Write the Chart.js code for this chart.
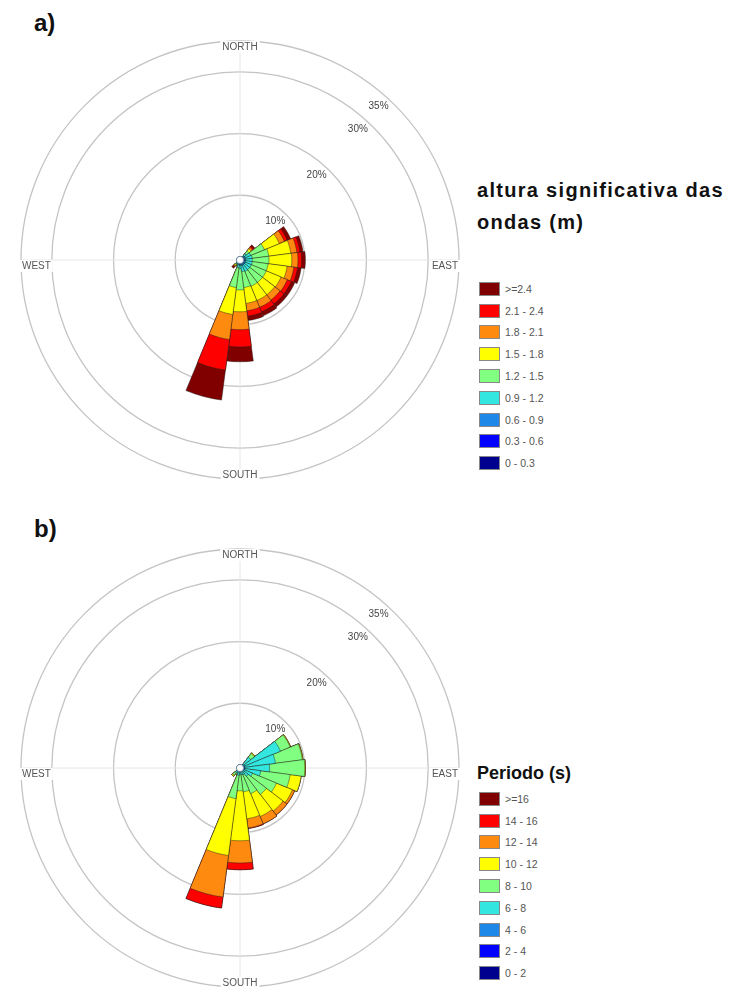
<!DOCTYPE html>
<html>
<head>
<meta charset="utf-8">
<script src="https://cdn.jsdelivr.net/npm/chart.js@4.4.0/dist/chart.umd.min.js"></script>
<style>
  body { margin: 0; background: #fff; font-family: "Liberation Sans", Arial, sans-serif; }
  #page { position: relative; width: 730px; height: 991px; overflow: hidden; }
  canvas { position: absolute; }
  .panel { position: absolute; font-weight: bold; font-size: 24px; color: #111; }
  .legend-title { position: absolute; left: 477px; font-weight: bold; line-height: 32px; color: #111; white-space: nowrap; }
  .legend { position: absolute; left: 479px; }
  .legend-row { display: flex; align-items: center; height: 21.8px; }
  .swatch { width: 19px; height: 12px; border: 1px solid #888; margin-right: 5px; }
  .legend-row span { font-size: 10.5px; color: #555; }
</style>
</head>
<body>
<div id="page">
  <div class="panel" style="left:34px; top:9px;">a)</div>
  <div class="panel" style="left:34px; top:515px;">b)</div>
  <canvas id="roseA" width="460" height="460" style="left:10px; top:30px;"></canvas>
  <canvas id="roseB" width="460" height="460" style="left:10px; top:538px;"></canvas>
  <div class="legend-title" style="top:174px; font-size:20px; letter-spacing:1.3px;">altura significativa das<br>ondas (m)</div>
  <div class="legend" id="legendA" style="top:278px;"></div>
  <div class="legend-title" style="top:757px; font-size:18px;">Periodo (s)</div>
  <div class="legend" id="legendB" style="top:788px;"></div>
</div>
<script>
// sector centres (degrees from north), 15 degree sectors
const directions = [0, 15, 30, 45, 60, 75, 90, 105, 120, 135, 150, 165,
  180, 195, 210, 225, 240, 255, 270, 285, 300, 315, 330, 345];

const ringTicks = [10, 20, 30, 35];

// a) significant wave height, % of occurrences per sector and class
const heightLabels = ["0 - 0.3", "0.3 - 0.6", "0.6 - 0.9", "0.9 - 1.2", "1.2 - 1.5",
  "1.5 - 1.8", "1.8 - 2.1", "2.1 - 2.4", ">=2.4"];
const hs_0_03  = [0, 0, 0, 0,    0,    0,    0,    0,    0,    0,    0,    0,    0,    0,    0,   0,   0, 0, 0, 0, 0, 0, 0, 0];
const hs_03_06 = [0, 0, 0, 0.05, 0.05, 0.05, 0.05, 0.05, 0.05, 0.05, 0.05, 0.05, 0.05, 0.05, 0,   0,   0, 0, 0, 0, 0, 0, 0, 0];
const hs_06_09 = [0, 0, 0, 0.25, 0.35, 0.35, 0.35, 0.35, 0.35, 0.35, 0.35, 0.35, 0.25, 0.2,  0.1, 0.1, 0, 0, 0, 0, 0, 0, 0, 0];
const hs_09_12 = [0, 0, 0, 0.5,  1.0,  1.1,  1.1,  1.1,  1.1,  1.1,  1.1,  1.0,  0.6,  0.5,  0.2, 0.2, 0, 0, 0, 0, 0, 0, 0, 0];
const hs_12_15 = [0, 0, 0, 0.6,  2.4,  2.7,  2.7,  2.6,  2.6,  2.6,  2.6,  2.6,  3.45, 3.25, 0.1, 0.2, 0, 0, 0, 0, 0, 0, 0, 0];
const hs_15_18 = [0, 0, 0, 0.4,  2.6,  3.6,  3.7,  3.1,  2.6,  2.5,  2.5,  2.6,  3.55, 4.4,  0.1, 0.2, 0, 0, 0, 0, 0, 0, 0, 0];
const hs_18_21 = [0, 0, 0, 0.3,  0.9,  1.0,  1.0,  1.1,  1.1,  1.1,  1.2,  1.2,  2.9,  4.1,  0,   0.1, 0, 0, 0, 0, 0, 0, 0, 0];
const hs_21_24 = [0, 0, 0, 0.2,  0.5,  0.5,  0.6,  0.6,  0.7,  0.8,  0.8,  0.9,  2.8,  5.0,  0,   0.1, 0, 0, 0, 0, 0, 0, 0, 0];
const hs_24    = [0, 0, 0, 0.3,  0.6,  0.5,  0.6,  0.6,  0.6,  0.6,  0.7,  0.7,  2.4,  4.9,  0.1, 0.3, 0, 0, 0, 0, 0, 0, 0, 0];

// b) peak period, % of occurrences per sector and class
const periodLabels = ["0 - 2", "2 - 4", "4 - 6", "6 - 8", "8 - 10", "10 - 12", "12 - 14", "14 - 16", ">=16"];
const tp_0_2   = [0, 0, 0, 0,    0,   0,   0,   0,   0,   0,   0,   0,   0,   0,   0,   0,   0, 0, 0, 0, 0, 0, 0, 0];
const tp_2_4   = [0, 0, 0, 0,    0,   0,   0,   0,   0,   0,   0,   0,   0,   0,   0,   0,   0, 0, 0, 0, 0, 0, 0, 0];
const tp_4_6   = [0, 0, 0, 0.2,  0.3, 0.3, 0.3, 0.3, 0.2, 0.2, 0.1, 0.1, 0.1, 0.1, 0.1, 0.1, 0, 0, 0, 0, 0, 0, 0, 0];
const tp_6_8   = [0, 0, 0, 1.5,  6.3, 5.0, 4.0, 2.6, 1.5, 1.0, 0.6, 0.5, 0.5, 0.6, 0.3, 0.4, 0, 0, 0, 0, 0, 0, 0, 0];
const tp_8_10  = [0, 0, 0, 0.75, 1.7, 4.4, 5.7, 4.8, 4.2, 3.7, 3.3, 2.8, 2.6, 3.8, 0.2, 0.5, 0, 0, 0, 0, 0, 0, 0, 0];
const tp_10_12 = [0, 0, 0, 0.15, 0.1, 0.1, 0.1, 1.8, 2.8, 3.4, 4.0, 4.4, 8.1, 9.3, 0,   0.2, 0, 0, 0, 0, 0, 0, 0, 0];
const tp_12_14 = [0, 0, 0, 0,    0,   0,   0,   0,   0.4, 0.8, 1.3, 1.5, 3.6, 6.8, 0,   0,   0, 0, 0, 0, 0, 0, 0, 0];
const tp_14_16 = [0, 0, 0, 0,    0,   0,   0,   0,   0,   0,   0,   0.1, 1.1, 1.8, 0,   0,   0, 0, 0, 0, 0, 0, 0, 0];
const tp_16    = [0, 0, 0, 0,    0,   0,   0,   0,   0,   0,   0,   0,   0,   0,   0,   0,   0, 0, 0, 0, 0, 0, 0, 0];

// jet-like class colours, lowest class first
const classColors = ["#00008f", "#0000ff", "#1e88e8", "#33e6e0", "#80ff80",
  "#ffff00", "#ff8a10", "#ff0000", "#800000"];

// compass words, percentage labels and the empty centre
const roseDecor = {
  id: "roseDecor",
  beforeDatasetsDraw(chart) {
    const s = chart.scales.r;
    const R = s.getDistanceFromCenterForValue(35);
    const c = chart.ctx;
    c.save();
    c.strokeStyle = "#e6e6e6";
    c.lineWidth = 1;
    c.beginPath();
    c.moveTo(s.xCenter - R, s.yCenter); c.lineTo(s.xCenter + R, s.yCenter);
    c.moveTo(s.xCenter, s.yCenter - R); c.lineTo(s.xCenter, s.yCenter + R);
    c.stroke();
    c.restore();
  },
  afterDatasetsDraw(chart) {
    const s = chart.scales.r;
    const c = chart.ctx;
    c.save();
    c.fillStyle = "#fff";
    c.strokeStyle = "#6a8fb0";
    c.lineWidth = 0.8;
    c.beginPath();
    c.arc(s.xCenter, s.yCenter, s.getDistanceFromCenterForValue(0) + 0.5, 0, Math.PI * 2);
    c.fill();
    c.stroke();
    c.restore();
  },
  afterDraw(chart) {
    const s = chart.scales.r;
    const R = s.getDistanceFromCenterForValue(35);
    const c = chart.ctx;
    const x0 = s.xCenter, y0 = s.yCenter;
    c.save();
    c.font = "10px 'Liberation Sans', Arial, sans-serif";
    c.textBaseline = "middle";
    const label = (text, x, y, align) => {
      const w = c.measureText(text).width;
      const left = align === "left" ? x : align === "right" ? x - w : x - w / 2;
      c.fillStyle = "#fff";
      c.fillRect(left - 2, y - 6, w + 4, 12);
      c.fillStyle = "#555";
      c.textAlign = "left";
      c.fillText(text, left, y);
    };
    label("NORTH", x0, y0 - R + 6, "center");
    label("SOUTH", x0, y0 + R - 4, "center");
    label("WEST", x0 - R + 1, y0 + 6, "left");
    label("EAST", x0 + R - 1, y0 + 6, "right");
    const ang = 42 * Math.PI / 180;
    c.fillStyle = "#444";
    c.textAlign = "center";
    ringTicks.forEach(v => {
      const d = s.getDistanceFromCenterForValue(v) - 12;
      c.fillText(v + "%", x0 + Math.sin(ang) * d, y0 - Math.cos(ang) * d);
    });
    c.restore();
  }
};

function buildRose(canvasId, classes, names) {
  let running = directions.map(() => 0);
  const datasets = classes.map((cls, k) => {
    running = running.map((v, i) => v + cls[i]);
    return {
      label: names[k],
      data: running.slice(),
      backgroundColor: classColors[k],
      borderColor: "rgba(30,30,30,0.75)",
      borderWidth: 0.6
    };
  });

  new Chart(document.getElementById(canvasId), {
    type: "polarArea",
    data: { labels: directions.map(d => d + "°"), datasets },
    options: {
      responsive: false,
      animation: false,
      layout: { padding: 11 },
      plugins: { legend: { display: false }, tooltip: { enabled: false } },
      scales: {
        r: {
          min: -0.5,
          max: 35,
          startAngle: -7.5,
          afterBuildTicks: (scale) => {
            scale.ticks = [-0.5, ...ringTicks].map(v => ({ value: v }));
          },
          ticks: { display: false },
          grid: { circular: true, color: "#c4c4c4", lineWidth: 1.3 },
          angleLines: { display: false },
          pointLabels: { display: false }
        }
      }
    },
    plugins: [roseDecor]
  });
}

function buildLegend(boxId, names) {
  const box = document.getElementById(boxId);
  names.map((n, k) => k).reverse().forEach((k) => {
    const row = document.createElement("div");
    row.className = "legend-row";
    row.innerHTML = `<div class="swatch" style="background:${classColors[k]}"></div><span>${names[k]}</span>`;
    box.appendChild(row);
  });
}

buildRose("roseA", [hs_0_03, hs_03_06, hs_06_09, hs_09_12, hs_12_15, hs_15_18, hs_18_21, hs_21_24, hs_24], heightLabels);
buildRose("roseB", [tp_0_2, tp_2_4, tp_4_6, tp_6_8, tp_8_10, tp_10_12, tp_12_14, tp_14_16, tp_16], periodLabels);
buildLegend("legendA", heightLabels);
buildLegend("legendB", periodLabels);
</script>
</body>
</html>
